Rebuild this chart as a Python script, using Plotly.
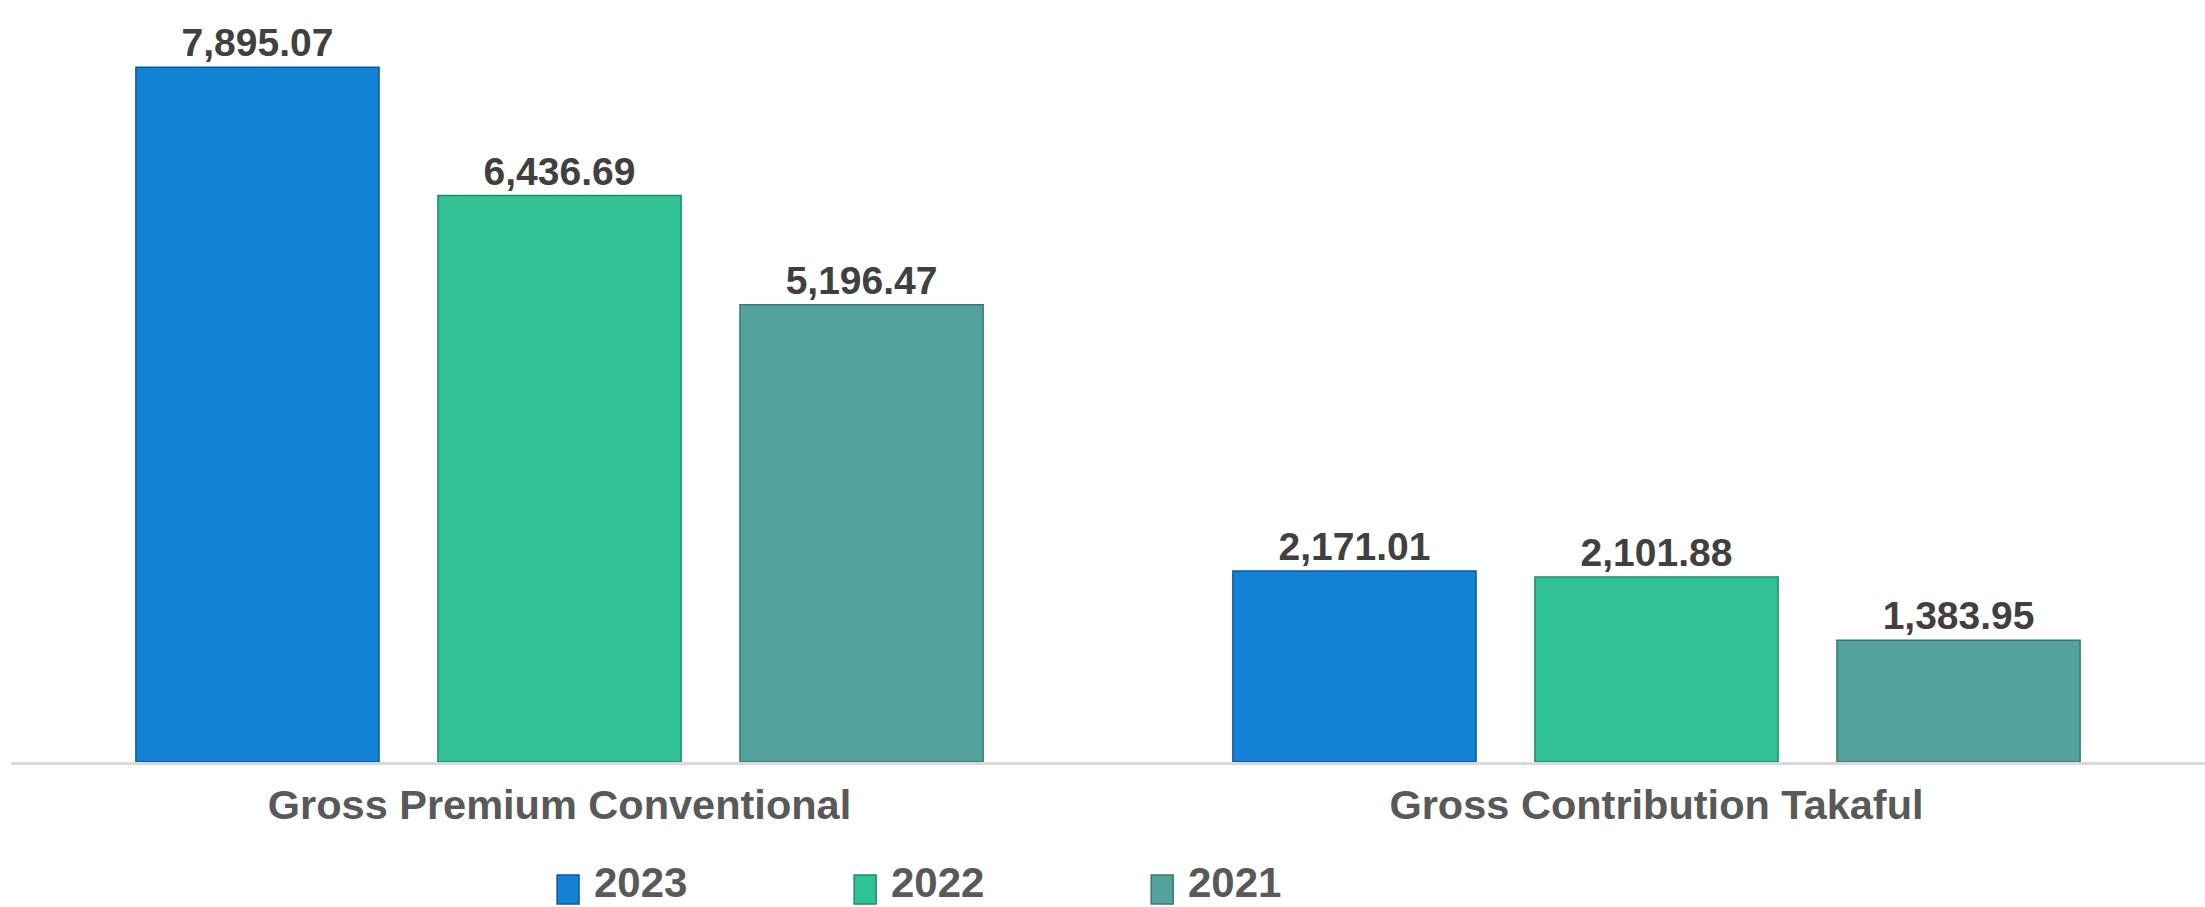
import plotly.graph_objects as go

categories = ["Gross Premium Conventional", "Gross Contribution Takaful"]
years = ["2023", "2022", "2021"]
values_2023 = [7895.07, 2171.01]
values_2022 = [6436.69, 2101.88]
values_2021 = [5196.47, 1383.95]
series = [values_2023, values_2022, values_2021]

colors = ["#1381d4", "#30c295", "#53a39c"]
line_colors = ["#0b5c9c", "#1f8a69", "#3b7772"]

FONT = "Liberation Sans, Arial, sans-serif"

fig = go.Figure()
for name, vals, c, lc in zip(years, series, colors, line_colors):
    fig.add_trace(go.Bar(
        x=categories, y=vals, name=name,
        marker=dict(color=c, line=dict(color=lc, width=1.5)),
        text=[f"{v:,.2f}" for v in vals],
        textposition="outside",
        textfont=dict(family=FONT, size=39, color="#404040", weight="bold"),
        cliponaxis=False,
        showlegend=False,
    ))

# custom legend (large swatches like the reference)
sw_x0 = 0.2489
sw_w = 0.0100
step = 0.1354
for i, (name, c, lc) in enumerate(zip(years, colors, line_colors)):
    x0 = sw_x0 + i * step
    fig.add_shape(type="rect", xref="paper", yref="paper",
                  x0=x0, x1=x0 + sw_w, y0=-0.2017, y1=-0.1605,
                  fillcolor=c, line=dict(color=lc, width=1.5))
    fig.add_annotation(xref="paper", yref="paper", x=x0 + sw_w + 0.0064, y=-0.1705,
                       xanchor="left", yanchor="middle", showarrow=False,
                       text=name, borderpad=0,
                       font=dict(family=FONT, size=42, color="#595959", weight="bold"))

fig.update_layout(
    width=2205, height=907, autosize=False,
    margin=dict(l=11, r=0, t=58, b=145),
    paper_bgcolor="white", plot_bgcolor="white",
    barmode="group", bargap=0.174, bargroupgap=0.195,
    showlegend=False,
)
fig.update_xaxes(
    showline=True, linecolor="#d9d9d9", linewidth=3,
    showgrid=False, zeroline=False, ticks="",
    ticklabelstandoff=4,
    tickfont=dict(family=FONT, size=41.5, color="#595959", weight="bold"),
)
fig.update_yaxes(range=[0, 8000], visible=False, showgrid=False, zeroline=False)

fig.write_html(
    "out.html",
    config={"displayModeBar": False},
    post_script="document.body.style.margin='0';document.body.style.overflow='hidden';",
)
